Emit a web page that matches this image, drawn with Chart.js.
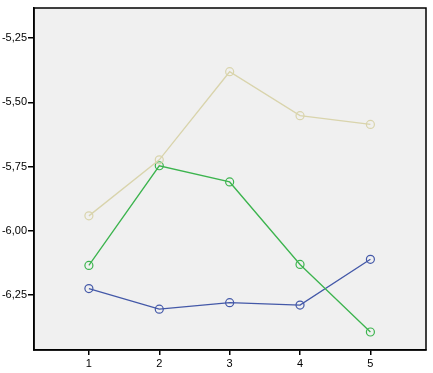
<!DOCTYPE html>
<html><head><meta charset="utf-8">
<script src="https://cdn.jsdelivr.net/npm/chart.js@4"></script>
<style>html,body{margin:0;padding:0;background:#fff;}#wrap{width:433px;height:373px;}</style>
</head><body><div id="wrap"><canvas id="c" width="433" height="373"></canvas></div>
<script>
const categories = [1, 2, 3, 4, 5];
const beigeSeries = [-5.942, -5.724, -5.381, -5.552, -5.586];
const greenSeries = [-6.135, -5.747, -5.810, -6.131, -6.394];
const blueSeries = [-6.225, -6.305, -6.280, -6.289, -6.111];
const yTicks = [-5.25, -5.50, -5.75, -6.00, -6.25];

function pts(vals){ return categories.map((c,i)=>({x:c,y:vals[i]})); }
function ds(vals,color){
  return {data:pts(vals),borderColor:color,backgroundColor:'rgba(0,0,0,0)',borderWidth:1.3,
    pointRadius:4,pointHoverRadius:4,pointBorderWidth:1.2,pointBorderColor:color,pointBackgroundColor:'rgba(0,0,0,0)',tension:0};
}
const bgPlugin = {
  id:'bg',
  beforeDraw(chart){
    const {ctx,chartArea:a}=chart;
    ctx.save();ctx.fillStyle='#f0f0f0';ctx.fillRect(a.left,a.top,a.right-a.left,a.bottom-a.top);ctx.restore();
  },
  afterDraw(chart){
    const {ctx,chartArea:a}=chart;
    ctx.save();ctx.strokeStyle='#000';ctx.lineWidth=1.5;
    ctx.strokeRect(a.left,a.top,a.right-a.left,a.bottom-a.top);ctx.restore();
  }
};
new Chart(document.getElementById('c'),{
  type:'line',
  data:{datasets:[ds(beigeSeries,'#d9d4ac'),ds(greenSeries,'#3cb44e'),ds(blueSeries,'#4358a8')]},
  options:{
    responsive:false,animation:false,
    layout:{padding:{top:8,right:7,left:0,bottom:0}},
    plugins:{legend:{display:false},tooltip:{enabled:false}},
    scales:{
      x:{type:'linear',min:0.22,max:5.79,
        afterBuildTicks(s){s.ticks=categories.map(v=>({value:v}));},
        afterFit(s){s.height=23;},
        grid:{drawOnChartArea:false,drawTicks:true,tickLength:5,color:'#000',lineWidth:1.5},
        border:{display:true,color:'#000',width:1.5},
        ticks:{color:'#000',padding:2,font:{family:'Liberation Sans, Arial',size:11},callback:v=>String(v)}
      },
      y:{type:'linear',min:-6.464,max:-5.133,
        afterBuildTicks(s){s.ticks=yTicks.map(v=>({value:v}));},
        afterFit(s){s.width=34;},
        grid:{drawOnChartArea:false,drawTicks:true,tickLength:6,color:'#000',lineWidth:1.5},
        border:{display:true,color:'#000',width:1.5},
        ticks:{color:'#000',padding:1,font:{family:'Liberation Sans, Arial',size:11},
          callback:v=>v.toFixed(2).replace('.',',')}
      }
    }
  },
  plugins:[bgPlugin]
});
</script></body></html>
